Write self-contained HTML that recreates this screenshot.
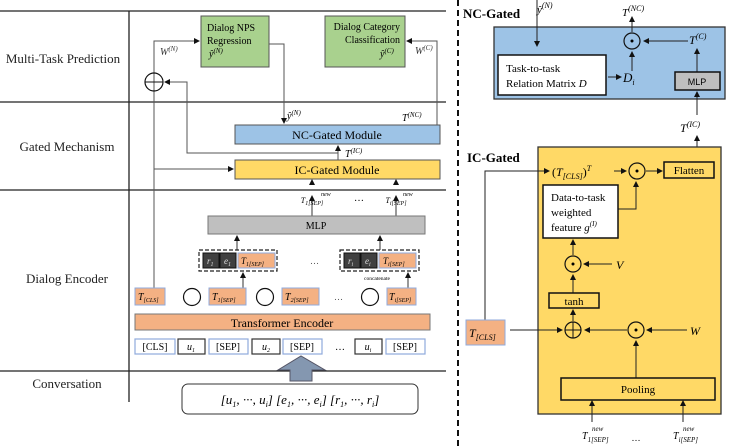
<!DOCTYPE html>
<html><head><meta charset="utf-8"><style>
html,body{margin:0;padding:0;background:#fff;}
svg{display:block;font-family:"Liberation Serif",serif;}
.i{font-style:italic}
</style></head><body>
<svg width="731" height="446" viewBox="0 0 731 446" xmlns="http://www.w3.org/2000/svg">
<defs>
<marker id="a" markerWidth="6" markerHeight="6" refX="5" refY="3" orient="auto" markerUnits="userSpaceOnUse"><path d="M0,0 L6,3 L0,6 z" fill="#111"/></marker>
</defs>
<!-- left grid -->
<g stroke="#222" stroke-width="1.3" fill="none">
<line x1="0" y1="11" x2="446" y2="11"/>
<line x1="0" y1="102" x2="446" y2="102"/>
<line x1="0" y1="190" x2="446" y2="190"/>
<line x1="0" y1="371" x2="446" y2="371"/>
<line x1="129" y1="11" x2="129" y2="402"/>
</g>
<g font-size="13" text-anchor="middle" fill="#222">
<text x="63" y="63">Multi-Task Prediction</text>
<text x="67" y="151">Gated Mechanism</text>
<text x="67" y="283">Dialog Encoder</text>
<text x="67" y="388">Conversation</text>
</g>
<!-- prediction boxes -->
<rect x="201" y="16" width="68" height="51" fill="#a9d18e" stroke="#555"/>
<text x="207" y="31" font-size="10">Dialog NPS</text>
<text x="207" y="44" font-size="10">Regression</text>
<text x="209" y="57" font-size="10" class="i">ŷ<tspan font-size="7" dy="-4">(N)</tspan></text>
<rect x="325" y="16" width="80" height="51" fill="#a9d18e" stroke="#555"/>
<text x="400" y="30" font-size="10" text-anchor="end">Dialog Category</text>
<text x="400" y="43" font-size="10" text-anchor="end">Classification</text>
<text x="380" y="57" font-size="10" class="i">ŷ<tspan font-size="7" dy="-4">(C)</tspan></text>
<!-- connectors -->
<g stroke="#555" stroke-width="1" fill="none">
<polyline points="154,290 154,41 199,41" marker-end="url(#a)"/>
<line x1="154" y1="169" x2="233" y2="169" marker-end="url(#a)"/>
<polyline points="338,153 187,153 187,82 165,82" marker-end="url(#a)"/>
<line x1="338" y1="160" x2="338" y2="146" marker-end="url(#a)"/>
<polyline points="269,44 284,44 284,123" marker-end="url(#a)"/>
<polyline points="437,125 437,41 407,41" marker-end="url(#a)"/>
</g>
<circle cx="154" cy="82" r="9" fill="none" stroke="#111" stroke-width="1.2"/>
<line x1="145" y1="82" x2="163" y2="82" stroke="#111"/>
<text x="160" y="55" font-size="10" class="i" fill="#333">W<tspan font-size="7" dy="-4">(N)</tspan></text>
<text x="415" y="54" font-size="10" class="i" fill="#333">W<tspan font-size="7" dy="-4">(C)</tspan></text>
<text x="287" y="119" font-size="10" class="i">ŷ<tspan font-size="7" dy="-4">(N)</tspan></text>
<text x="402" y="121" font-size="10" class="i">T<tspan font-size="7" dy="-4">(NC)</tspan></text>
<text x="345" y="157" font-size="10" class="i">T<tspan font-size="7" dy="-4">(IC)</tspan></text>
<rect x="235" y="125" width="205" height="19" fill="#9dc3e6" stroke="#555"/>
<text x="337" y="139" font-size="12" text-anchor="middle">NC-Gated Module</text>
<rect x="235" y="160" width="205" height="19" fill="#ffd966" stroke="#555"/>
<text x="337" y="174" font-size="12" text-anchor="middle">IC-Gated Module</text>
<!-- encoder -->
<g stroke="#333" stroke-width="1" fill="none">
<line x1="312" y1="216" x2="312" y2="196" marker-end="url(#a)"/>
<line x1="396" y1="216" x2="396" y2="196" marker-end="url(#a)"/>
<line x1="312" y1="184" x2="312" y2="180" marker-end="url(#a)"/>
<line x1="396" y1="184" x2="396" y2="180" marker-end="url(#a)"/>
<line x1="237" y1="250" x2="237" y2="236" marker-end="url(#a)"/>
<line x1="380" y1="250" x2="380" y2="236" marker-end="url(#a)"/>
<line x1="243" y1="288" x2="243" y2="273" marker-end="url(#a)"/>
<line x1="408" y1="288" x2="408" y2="273" marker-end="url(#a)"/>
</g>
<text x="312" y="203" font-size="8" text-anchor="middle" class="i">T<tspan font-size="6" dy="2">1[SEP]</tspan></text>
<text x="321" y="196" font-size="6" class="i">new</text>
<text x="354" y="201" font-size="10">…</text>
<text x="396" y="203" font-size="8" text-anchor="middle" class="i">T<tspan font-size="6" dy="2">i[SEP]</tspan></text>
<text x="403" y="196" font-size="6" class="i">new</text>
<rect x="208" y="216" width="217" height="18" fill="#bfbfbf" stroke="#777"/>
<text x="316" y="229" font-size="10" text-anchor="middle">MLP</text>
<rect x="199" y="250" width="78" height="21" fill="none" stroke="#222" stroke-dasharray="4,2" stroke-width="1.2"/>
<rect x="203" y="253" width="16" height="15" fill="#404040" stroke="#111"/>
<rect x="220" y="253" width="16" height="15" fill="#404040" stroke="#111"/>
<rect x="238" y="253" width="37" height="15" fill="#f4b183" stroke="#8faadc"/>
<text x="207" y="264" font-size="9" class="i" fill="#ddd">r<tspan font-size="6" dy="2">1</tspan></text>
<text x="224" y="264" font-size="9" class="i" fill="#ddd">e<tspan font-size="6" dy="2">1</tspan></text>
<text x="241" y="264" font-size="9" class="i">T<tspan font-size="6" dy="2">1[SEP]</tspan></text>
<text x="310" y="264" font-size="9" fill="#555">…</text>
<rect x="340" y="250" width="79" height="21" fill="none" stroke="#222" stroke-dasharray="4,2" stroke-width="1.2"/>
<rect x="344" y="253" width="16" height="15" fill="#404040" stroke="#111"/>
<rect x="361" y="253" width="16" height="15" fill="#404040" stroke="#111"/>
<rect x="379" y="253" width="37" height="15" fill="#f4b183" stroke="#8faadc"/>
<text x="348" y="264" font-size="9" class="i" fill="#ddd">r<tspan font-size="6" dy="2">i</tspan></text>
<text x="365" y="264" font-size="9" class="i" fill="#ddd">e<tspan font-size="6" dy="2">i</tspan></text>
<text x="383" y="264" font-size="9" class="i">T<tspan font-size="6" dy="2">i[SEP]</tspan></text>
<text x="377" y="280" font-size="5.5" text-anchor="middle">concatenate</text>
<!-- T row -->
<g fill="#f4b183" stroke="#8faadc">
<rect x="135" y="288" width="30" height="17"/>
<rect x="209" y="288" width="37" height="17"/>
<rect x="282" y="288" width="37" height="17"/>
<rect x="387" y="288" width="29" height="17"/>
</g>
<g font-size="10" class="i">
<text x="138" y="300">T<tspan font-size="6" dy="2">[CLS]</tspan></text>
<text x="212" y="300">T<tspan font-size="6" dy="2">1[SEP]</tspan></text>
<text x="285" y="300">T<tspan font-size="6" dy="2">2[SEP]</tspan></text>
<text x="389" y="300">T<tspan font-size="6" dy="2">i[SEP]</tspan></text>
</g>
<g fill="none" stroke="#111" stroke-width="1.2">
<circle cx="192" cy="297" r="8.5"/><circle cx="265" cy="297" r="8.5"/><circle cx="370" cy="297" r="8.5"/>
</g>
<text x="334" y="300" font-size="9" fill="#555">…</text>
<rect x="135" y="314" width="295" height="16" fill="#f4b183" stroke="#777"/>
<text x="282" y="327" font-size="12" text-anchor="middle">Transformer Encoder</text>
<g fill="#fff" stroke-width="1.2">
<rect x="135" y="339" width="40" height="15" stroke="#8faadc"/>
<rect x="178" y="339" width="27" height="15" stroke="#333"/>
<rect x="209" y="339" width="39" height="15" stroke="#8faadc"/>
<rect x="252" y="339" width="28" height="15" stroke="#333"/>
<rect x="283" y="339" width="39" height="15" stroke="#8faadc"/>
<rect x="355" y="339" width="27" height="15" stroke="#333"/>
<rect x="386" y="339" width="39" height="15" stroke="#8faadc"/>
</g>
<g font-size="10" text-anchor="middle">
<text x="155" y="350">[CLS]</text><text x="191" y="350" class="i">u<tspan font-size="6" dy="2">1</tspan></text>
<text x="228" y="350">[SEP]</text><text x="266" y="350" class="i">u<tspan font-size="6" dy="2">2</tspan></text>
<text x="302" y="350">[SEP]</text><text x="340" y="350">…</text>
<text x="368" y="350" class="i">u<tspan font-size="6" dy="2">i</tspan></text><text x="405" y="350">[SEP]</text>
</g>
<path d="M290,381 L290,370 L278,370 L301,356 L325,370 L312,370 L312,381 Z" fill="#8497b0" stroke="#556"/>
<rect x="182" y="384" width="236" height="30" rx="6" fill="#fff" stroke="#333"/>
<text x="300" y="404" font-size="13" text-anchor="middle" class="i">[u<tspan font-size="8" dy="3">1</tspan><tspan dy="-3">, ···, u</tspan><tspan font-size="8" dy="3">i</tspan><tspan dy="-3">] [e</tspan><tspan font-size="8" dy="3">1</tspan><tspan dy="-3">, ···, e</tspan><tspan font-size="8" dy="3">i</tspan><tspan dy="-3">] [r</tspan><tspan font-size="8" dy="3">1</tspan><tspan dy="-3">, ···, r</tspan><tspan font-size="8" dy="3">i</tspan><tspan dy="-3">]</tspan></text>
<!-- right panel -->
<line x1="458" y1="0" x2="458" y2="446" stroke="#111" stroke-width="2" stroke-dasharray="6,4"/>
<text x="463" y="18" font-size="13" font-weight="bold">NC-Gated</text>
<rect x="494" y="27" width="231" height="72" fill="#9dc3e6" stroke="#333" stroke-width="1.3"/>
<rect x="498" y="55" width="108" height="40" fill="#fff" stroke="#111" stroke-width="1.5"/>
<text x="506" y="72" font-size="11">Task-to-task</text>
<text x="506" y="87" font-size="11">Relation Matrix <tspan class="i">D</tspan></text>
<text x="537" y="13" font-size="11" class="i">ŷ<tspan font-size="8" dy="-5">(N)</tspan></text>
<g stroke="#222" stroke-width="1" fill="none">
<line x1="537" y1="0" x2="537" y2="46" marker-end="url(#a)"/>
<line x1="632" y1="32" x2="632" y2="17" marker-end="url(#a)"/>
<line x1="688" y1="41" x2="644" y2="41" marker-end="url(#a)"/>
<line x1="632" y1="71" x2="632" y2="52" marker-end="url(#a)"/>
<line x1="608" y1="77" x2="621" y2="77" marker-end="url(#a)"/>
<line x1="697" y1="72" x2="697" y2="49" marker-end="url(#a)"/>
<line x1="697" y1="147" x2="697" y2="136" marker-end="url(#a)"/>
<line x1="697" y1="115" x2="697" y2="92" marker-end="url(#a)"/>
</g>
<text x="622" y="16" font-size="11" class="i">T<tspan font-size="8" dy="-5">(NC)</tspan></text>
<circle cx="632" cy="41" r="8" fill="none" stroke="#111" stroke-width="1.2"/><circle cx="632" cy="41" r="1.5"/>
<text x="689" y="44" font-size="12" class="i">T<tspan font-size="8" dy="-5">(C)</tspan></text>
<text x="623" y="82" font-size="13" class="i">D<tspan font-size="8" dy="3">i</tspan></text>
<rect x="675" y="72" width="45" height="18" fill="#bfbfbf" stroke="#111" stroke-width="1.5"/>
<text x="697" y="85" font-size="9" text-anchor="middle" font-family="Liberation Sans,sans-serif">MLP</text>
<text x="680" y="132" font-size="12" class="i">T<tspan font-size="8" dy="-5">(IC)</tspan></text>
<text x="467" y="162" font-size="13" font-weight="bold">IC-Gated</text>
<rect x="538" y="147" width="183" height="267" fill="#ffd966" stroke="#333" stroke-width="1.3"/>
<text x="552" y="176" font-size="12">(<tspan class="i">T</tspan><tspan font-size="8" dy="3" class="i">[CLS]</tspan><tspan dy="-3">)</tspan><tspan font-size="8" dy="-5" class="i">T</tspan></text>
<g stroke="#222" stroke-width="1" fill="none">
<polyline points="485,320 485,171 549,171" marker-end="url(#a)"/>
<line x1="614" y1="171" x2="626" y2="171" marker-end="url(#a)"/>
<line x1="646" y1="171" x2="662" y2="171" marker-end="url(#a)"/>
<polyline points="618,209 636,209 636,182" marker-end="url(#a)"/>
<line x1="573" y1="255" x2="573" y2="240" marker-end="url(#a)"/>
<line x1="612" y1="264" x2="584" y2="264" marker-end="url(#a)"/>
<line x1="573" y1="293" x2="573" y2="275" marker-end="url(#a)"/>
<line x1="573" y1="321" x2="573" y2="310" marker-end="url(#a)"/>
<line x1="510" y1="330" x2="562" y2="330" marker-end="url(#a)"/>
<line x1="627" y1="330" x2="585" y2="330" marker-end="url(#a)"/>
<line x1="687" y1="330" x2="647" y2="330" marker-end="url(#a)"/>
<line x1="636" y1="378" x2="636" y2="341" marker-end="url(#a)"/>
<line x1="592" y1="422" x2="592" y2="401" marker-end="url(#a)"/>
<line x1="683" y1="422" x2="683" y2="401" marker-end="url(#a)"/>
</g>
<circle cx="637" cy="171" r="8" fill="#ffd966" stroke="#111" stroke-width="1.2"/><circle cx="637" cy="171" r="1.5"/>
<rect x="664" y="162" width="50" height="16" fill="#ffd966" stroke="#111" stroke-width="1.5"/>
<text x="689" y="174" font-size="11" text-anchor="middle">Flatten</text>
<rect x="543" y="185" width="75" height="53" fill="#fff" stroke="#111" stroke-width="1.5"/>
<text x="551" y="201" font-size="11">Data-to-task</text>
<text x="551" y="216" font-size="11">weighted</text>
<text x="551" y="231" font-size="11">feature <tspan class="i">g</tspan><tspan font-size="7" dy="-5" class="i">(I)</tspan></text>
<circle cx="573" cy="264" r="8" fill="none" stroke="#111" stroke-width="1.2"/><circle cx="573" cy="264" r="1.5"/>
<text x="616" y="269" font-size="12" class="i">V</text>
<rect x="549" y="293" width="50" height="15" fill="#ffd966" stroke="#111" stroke-width="1.5"/>
<text x="574" y="305" font-size="11" text-anchor="middle">tanh</text>
<circle cx="573" cy="330" r="8" fill="none" stroke="#111" stroke-width="1.2"/>
<line x1="565" y1="330" x2="581" y2="330" stroke="#111"/><line x1="573" y1="322" x2="573" y2="338" stroke="#111"/>
<circle cx="636" cy="330" r="8" fill="none" stroke="#111" stroke-width="1.2"/><circle cx="636" cy="330" r="1.5"/>
<text x="690" y="335" font-size="12" class="i">W</text>
<rect x="466" y="320" width="39" height="25" fill="#f4b183" stroke="#8faadc"/>
<text x="469" y="337" font-size="12" class="i">T<tspan font-size="8" dy="3">[CLS]</tspan></text>
<rect x="561" y="378" width="154" height="22" fill="#ffd966" stroke="#111" stroke-width="1.5"/>
<text x="638" y="393" font-size="11" text-anchor="middle">Pooling</text>
<text x="582" y="439" font-size="10" class="i">T<tspan font-size="7" dy="3">1[SEP]</tspan></text>
<text x="592" y="431" font-size="7" class="i">new</text>
<text x="636" y="441" font-size="9" text-anchor="middle">…</text>
<text x="673" y="439" font-size="10" class="i">T<tspan font-size="7" dy="3">i[SEP]</tspan></text>
<text x="683" y="431" font-size="7" class="i">new</text>
</svg>
</body></html>
